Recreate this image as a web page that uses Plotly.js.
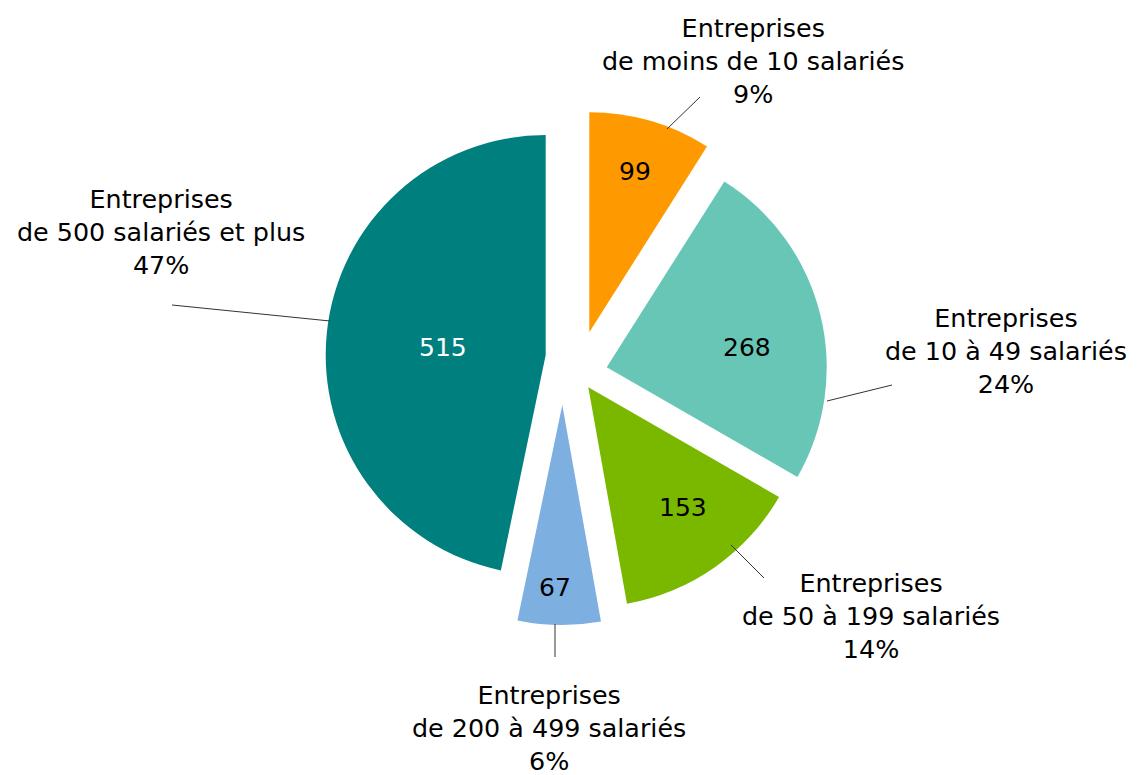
<!DOCTYPE html>
<html>
<head>
<meta charset="utf-8">
<script src="https://cdn.plot.ly/plotly-3.0.1.min.js"></script>
<style>html,body{margin:0;padding:0;background:#fff;}#chart{width:1138px;height:775px;}</style>
</head>
<body>
<div id="chart"></div>
<script>
// ---- data ----
const categories = ["Entreprises<br>de moins de 10 salariés", "Entreprises<br>de 10 à 49 salariés", "Entreprises<br>de 50 à 199 salariés", "Entreprises<br>de 200 à 499 salariés", "Entreprises<br>de 500 salariés et plus"];
const values = [99, 268, 153, 67, 515];
const colors = ["#FF9900", "#68C6B6", "#7AB800", "#7EAFE1", "#007F7F"];
const valueTextColors = ["#000000", "#000000", "#000000", "#000000", "#FFFFFF"];

// ---- layout (pixels) ----
const W = 1138, H = 775;
const R = 220;                      // pie radius in px
const px = x => x / W;
const py = y => 1 - y / H;
// exploded position of each slice's apex
const sliceOrigins = [[589.3, 332.3], [606.7, 367.3], [588.3, 387.3], [562.3, 405], [545.7, 355]];
// value label centres
const valuePos = [[635, 171], [747, 347], [683, 507], [555, 587], [443, 347]];
// category label anchor (centre of middle line) and leader lines
const labelPos = [[753, 61], [1006, 351], [871, 616], [549, 728], [161, 232]];
const leaders = [[[700, 97], [667, 129]], [[892, 385], [827, 401]], [[731, 545], [764, 578]], [[555, 624], [555, 657]], [[172, 305], [330, 321]]];

const total = values.reduce((a, b) => a + b, 0);

// one pie per exploded slice (same values, only its own slice painted)
const traces = values.map((v, i) => ({
  type: 'pie',
  values: values,
  labels: categories,
  sort: false,
  direction: 'clockwise',
  rotation: 0,
  marker: { colors: colors.map((c, j) => j === i ? c : 'rgba(0,0,0,0)'), line: { width: 0 } },
  textinfo: 'none',
  hoverinfo: 'none',
  showlegend: false,
  domain: {
    x: [px(sliceOrigins[i][0] - R), px(sliceOrigins[i][0] + R)],
    y: [py(sliceOrigins[i][1] + R), py(sliceOrigins[i][1] - R)]
  }
}));

const valueAnnotations = values.map((v, i) => ({
  xref: 'paper', yref: 'paper',
  x: px(valuePos[i][0]), y: py(valuePos[i][1]),
  xanchor: 'center', yanchor: 'middle',
  showarrow: false,
  text: String(v),
  font: { family: 'DejaVu Sans', size: 25, color: valueTextColors[i] }
}));

const labelAnnotations = categories.map((c, i) => ({
  xref: 'paper', yref: 'paper',
  x: px(labelPos[i][0]), y: py(labelPos[i][1]),
  xanchor: 'center', yanchor: 'middle', align: 'center',
  showarrow: false,
  text: c + '<br>' + Math.round(values[i] / total * 100) + '%',
  font: { family: 'DejaVu Sans', size: 25.4, color: '#000000' }
}));

const shapes = leaders.map(l => ({
  type: 'line', xref: 'paper', yref: 'paper',
  x0: px(l[0][0]), y0: py(l[0][1]), x1: px(l[1][0]), y1: py(l[1][1]),
  line: { color: '#333333', width: 1 }
}));

const layout = {
  width: W, height: H,
  margin: { l: 0, r: 0, t: 0, b: 0 },
  paper_bgcolor: '#FFFFFF',
  showlegend: false,
  annotations: valueAnnotations.concat(labelAnnotations),
  shapes: shapes
};

Plotly.newPlot('chart', traces, layout, { displayModeBar: false, staticPlot: true });
</script>
</body>
</html>
